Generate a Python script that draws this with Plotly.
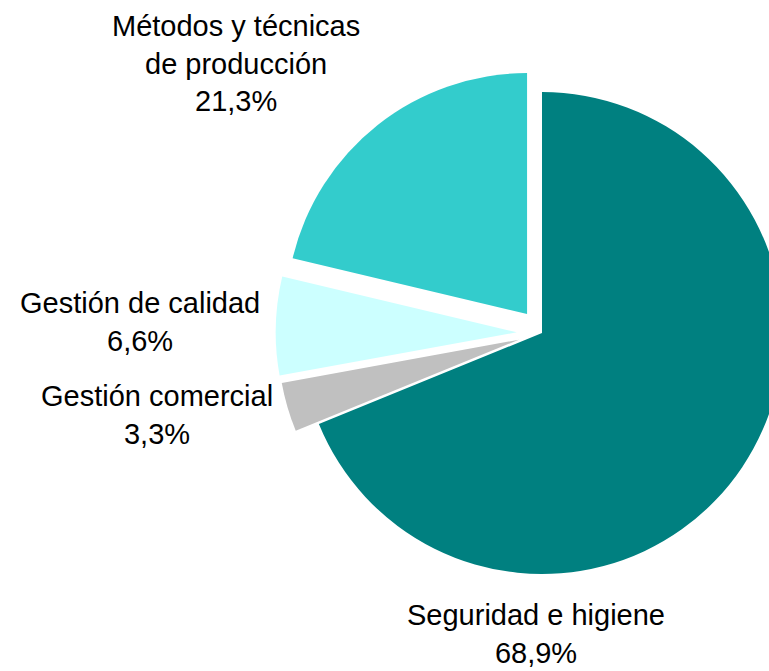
import plotly.graph_objects as go

# Data
labels = ["Seguridad e higiene", "Gestión comercial", "Gestión de calidad",
          "Métodos y técnicas<br>de producción"]
values = [68.9, 3.3, 6.6, 21.3]
colors = ["#008080", "#C0C0C0", "#CCFFFF", "#33CCCC"]
pulls = [0.0, 0.1, 0.105, 0.1]

# Layout geometry (pixels)
W, H = 820, 671
cx, cy, r = 542, 333, 241
span = 2 * r * (1 + max(pulls))
dom_x = [(cx - span / 2) / W, (cx + span / 2) / W]
dom_y = [1 - (cy + span / 2) / H, 1 - (cy - span / 2) / H]

label_pos = [(536, 634), (157, 415), (140, 322), (236, 64)]


def fmt(v):
    return f"{v:.1f}".replace(".", ",") + "%"


fig = go.Figure(go.Pie(
    labels=labels,
    values=values,
    sort=False,
    direction="clockwise",
    rotation=0,
    pull=pulls,
    marker=dict(colors=colors, line=dict(width=0)),
    textinfo="none",
    hoverinfo="label+percent",
    showlegend=False,
    domain=dict(x=dom_x, y=dom_y),
))

for lab, v, (px, py) in zip(labels, values, label_pos):
    fig.add_annotation(
        text=f"{lab}<br>{fmt(v)}",
        x=px / W, y=1 - py / H, xref="paper", yref="paper",
        xanchor="center", yanchor="middle", showarrow=False,
        font=dict(family="Liberation Sans, Arial, sans-serif", size=29, color="#000000"),
        align="center",
    )

fig.update_layout(
    width=W, height=H,
    margin=dict(l=0, r=0, t=0, b=0),
    paper_bgcolor="white", plot_bgcolor="white",
)

fig.write_html(
    "out.html",
    config={"displayModeBar": False},
    post_script="document.body.style.margin='0';document.body.style.overflow='hidden';",
)
